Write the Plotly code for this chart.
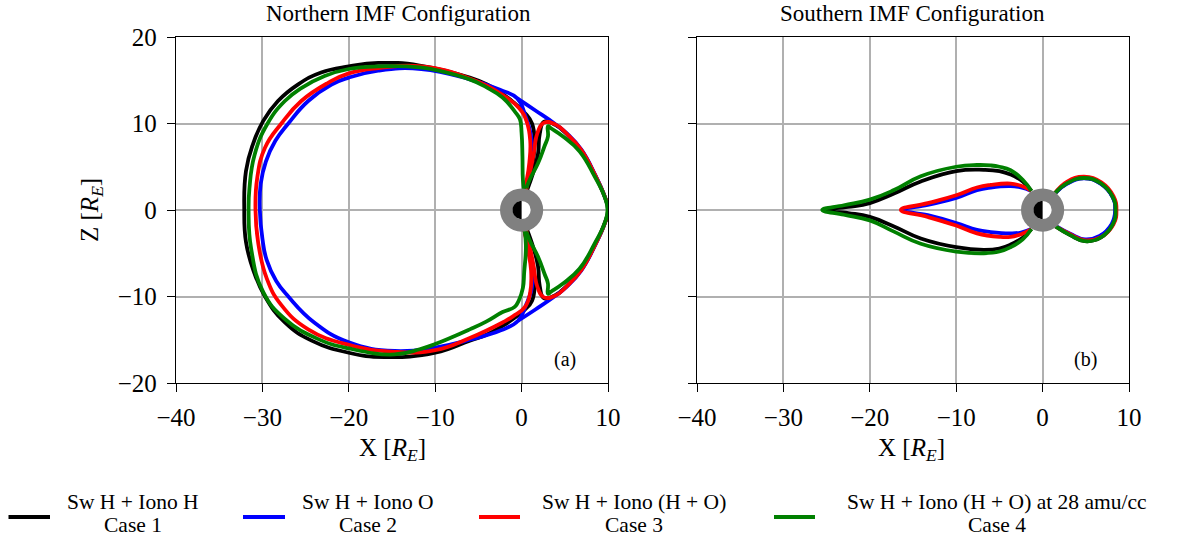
import numpy as np
import plotly.graph_objects as go

W, H = 1181, 540
FONT = "Liberation Serif"

# ---------------- data: boundary traces in X/Z [R_E] ----------------
case_colors = ["#000000", "#0000ff", "#ff0000", "#008000"]
case_titles = ["Sw H + Iono H", "Sw H + Iono O", "Sw H + Iono (H + O)",
               "Sw H + Iono (H + O) at 28 amu/cc"]
case_names = ["Case 1", "Case 2", "Case 3", "Case 4"]

# Northern IMF: nightside loop, then (after a gap) the dayside lobe
c1_north_x = [0.3, 0.8, 1.3, 1.5, 1.2, 0.4, -1.0, -2.2, -4.0, -6.0, -10.0, -15.9, -20.0, -24.3, -27.4, -29.7,
              -31.1, -31.9, -32.1, -31.9, -31.1, -29.9, -28.2, -25.9, -23.2, -20.0, -16.6, -11.8, -6.0, -4.0,
              -2.2, -1.0, 0.4, 1.2, 1.5, 1.3, 0.8, 0.3, None,
              0.6, 1.4, 1.9, 2.1, 2.6, 3.9, 5.3, 6.9, 8.5, 9.6, 10.0, 9.6, 8.5, 6.9, 5.3, 3.9, 2.6, 2.1, 1.9,
              1.4, 0.6]
c1_north_z = [-2.2, -4.5, -7.0, -9.0, -10.5, -11.5, -12.6, -13.4, -14.4, -15.1, -16.5, -17.0, -16.5, -15.1, -13.0,
              -10.0, -6.8, -3.7, 0.0, 4.5, 7.6, 10.3, 12.6, 14.5, 15.9, 16.6, 17.0, 16.7, 15.3, 14.5, 13.4, 12.5,
              11.2, 10.0, 8.0, 5.5, 3.5, 2.2, None,
              2.2, 4.5, 6.5, 8.8, 10.2, 9.85, 8.7, 6.9, 4.0, 1.6, 0.0, -1.6, -4.0, -6.9, -8.7, -9.85, -10.2, -8.8,
              -6.5, -4.5, -2.2]

c2_north_x = [0.3, 0.9, 1.3, 1.2, 0.5, -0.4, -2.4, -6.0, -10.0, -14.7, -20.0, -24.0, -27.0, -28.4, -29.5, -30.0,
              -30.3, -30.2, -29.6, -28.5, -27.0, -24.7, -22.0, -20.0, -16.6, -11.6, -6.0, -2.5, -0.5, 0.4, 1.1,
              1.2, 0.8, 0.3, None,
              -0.5, 1.6, 3.8, 5.3, 6.9, 8.5, 9.6, 10.05, 9.6, 8.5, 6.9, 5.3, 3.8, 1.6, -0.4]
c2_north_z = [-2.2, -4.5, -7.0, -9.0, -11.0, -12.8, -13.9, -15.0, -15.9, -16.3, -15.3, -13.0, -10.0, -8.2, -5.8,
              -3.3, 0.0, 3.0, 5.6, 8.0, 10.0, 12.6, 14.5, 15.3, 16.1, 16.3, 15.1, 13.9, 12.9, 11.0, 8.5, 6.0,
              4.0, 2.2, None,
              12.9, 11.5, 10.0, 8.8, 7.0, 4.1, 1.6, 0.0, -1.6, -4.1, -7.0, -8.8, -10.0, -11.5, -12.8]

c3_north_x = [0.3, 0.7, 1.1, 1.0, 0.4, -1.0, -2.2, -6.0, -10.0, -14.7, -20.0, -24.7, -27.8, -29.5, -30.5, -30.8,
              -30.6, -29.7, -27.8, -25.5, -22.4, -20.0, -16.6, -11.6, -6.0, -2.2, -0.3, 0.6, 1.0, 0.9, 0.6, 0.3,
              None,
              0.5, 1.0, 1.4, 1.8, 2.6, 3.9, 5.3, 6.9, 8.5, 9.6, 10.05, 9.6, 8.5, 6.9, 5.3, 3.9, 2.6, 1.8, 1.4,
              1.0, 0.5]
c3_north_z = [-2.2, -4.5, -7.0, -9.5, -11.2, -12.3, -13.0, -14.8, -16.2, -16.4, -15.6, -13.8, -11.0, -7.9, -3.7,
              0.0, 3.7, 7.2, 10.0, 12.6, 14.7, 15.8, 16.4, 16.6, 15.2, 13.3, 11.8, 10.2, 8.0, 5.5, 3.5, 2.2,
              None,
              2.2, 4.5, 6.5, 8.8, 10.1, 9.9, 8.75, 6.95, 4.05, 1.6, 0.0, -1.6, -4.05, -6.95, -8.75, -9.9, -10.1,
              -8.8, -6.5, -4.5, -2.2]

c4_north_x = [0.3, 0.5, 0.3, 0.15, -0.3, -0.8, -2.2, -4.1, -6.0, -10.0, -11.8, -14.7, -20.0, -23.6, -27.4, -29.9,
              -31.3, -31.6, -31.5, -30.9, -29.4, -27.4, -25.5, -22.8, -20.0, -16.6, -11.8, -10.0, -6.0, -4.1,
              -2.2, -0.8, -0.2, 0.0, 0.1, 0.15, 0.3, None,
              0.54, 0.93, 1.9, 2.66, 3.05, 3.05, 3.4, 4.8, 6.7, 8.45, 9.6, 9.95, 9.6, 8.45, 6.7, 4.8, 3.4, 3.05,
              3.05, 2.66, 1.9, 0.93, 0.54]
c4_north_z = [-2.0, -4.1, -7.2, -9.0, -10.4, -11.2, -11.8, -12.9, -13.8, -15.5, -16.1, -16.7, -16.0, -14.9, -12.6,
              -9.5, -4.5, 0.0, 2.5, 6.4, 10.0, 12.6, 14.1, 15.5, 16.3, 16.6, 16.5, 16.2, 15.1, 14.2, 13.0, 11.4,
              10.5, 8.9, 6.2, 3.5, 2.2, None,
              2.5, 3.5, 5.4, 7.4, 8.5, 9.7, 9.45, 8.5, 6.8, 3.9, 1.55, 0.0, -1.55, -3.9, -6.8, -8.5, -9.45, -9.7,
              -8.5, -7.4, -5.4, -3.5, -2.5]

# Southern IMF: magnetotail lobe, then (after a gap) the dayside lobe
c1_south_x = [-1.3, -2.3, -3.7, -5.0, -6.8, -10.0, -14.1, -17.2, -20.0, -22.5, -25.3, -22.5, -20.0, -17.2, -14.1,
              -10.0, -6.8, -5.0, -3.7, -2.3, -1.3, None,
              1.4, 2.85, 4.8, 6.7, 8.1, 8.45, 8.1, 6.7, 4.9, 3.2, 1.5]
c1_south_z = [2.2, 3.3, 4.1, 4.5, 4.65, 4.5, 3.3, 1.9, 0.8, 0.35, 0.0, -0.35, -0.8, -1.9, -3.3, -4.3, -4.6, -4.45,
              -4.0, -3.2, -2.2, None,
              1.9, 3.1, 3.7, 3.1, 1.55, 0.0, -1.7, -3.2, -3.6, -2.9, -1.9]

c2_south_x = [-1.3, -2.5, -3.7, -6.0, -7.6, -10.0, -13.3, -16.2, -13.3, -10.0, -7.6, -6.0, -3.7, -2.5, -1.3, None,
              1.4, 2.85, 4.8, 6.7, 8.1, 8.4, 8.0, 6.6, 4.9, 3.2, 1.5]
c2_south_z = [2.2, 2.6, 2.75, 2.6, 2.3, 1.4, 0.6, 0.0, -0.6, -1.5, -2.3, -2.55, -2.7, -2.6, -2.2, None,
              1.9, 3.05, 3.65, 3.05, 1.5, 0.0, -1.6, -3.0, -3.4, -2.75, -1.85]

c3_south_x = [-1.3, -2.5, -3.7, -6.0, -7.6, -10.0, -13.3, -16.4, -13.3, -10.0, -7.6, -5.0, -3.7, -2.5, -1.3, None,
              1.4, 2.8, 4.8, 6.8, 8.2, 8.55, 8.2, 6.8, 4.9, 3.2, 1.5]
c3_south_z = [2.2, 2.8, 3.05, 2.9, 2.6, 1.7, 0.8, 0.0, -0.8, -1.8, -2.7, -3.1, -3.1, -2.8, -2.2, None,
              1.9, 3.25, 3.85, 3.2, 1.6, 0.0, -1.65, -3.1, -3.5, -2.8, -1.9]

c4_south_x = [-1.3, -2.3, -3.7, -5.0, -6.0, -7.6, -10.0, -14.1, -17.2, -20.0, -23.0, -25.5, -23.0, -20.0, -17.2,
              -14.1, -10.0, -6.8, -5.0, -3.7, -2.3, -1.3, None,
              1.4, 2.85, 4.8, 6.7, 8.1, 8.45, 8.1, 6.7, 4.9, 3.2, 1.5]
c4_south_z = [2.2, 3.5, 4.6, 5.0, 5.15, 5.2, 5.0, 3.9, 2.3, 1.2, 0.55, 0.0, -0.55, -1.2, -2.5, -3.9, -4.8, -5.0,
              -4.8, -4.3, -3.4, -2.2, None,
              1.9, 3.1, 3.7, 3.1, 1.55, 0.0, -1.7, -3.2, -3.6, -2.9, -1.9]

north_x = [c1_north_x, c2_north_x, c3_north_x, c4_north_x]
north_z = [c1_north_z, c2_north_z, c3_north_z, c4_north_z]
south_x = [c1_south_x, c2_south_x, c3_south_x, c4_south_x]
south_z = [c1_south_z, c2_south_z, c3_south_z, c4_south_z]

x_ticks = [-40, -30, -20, -10, 0, 10]
z_ticks = [-20, -10, 0, 10, 20]
panel_titles = ["Northern IMF Configuration", "Southern IMF Configuration"]
panel_tags = ["(a)", "(b)"]

# ---------------- figure ----------------
fig = go.Figure()
line_style = dict(width=3.8, shape="spline", smoothing=1.3)
for xs, zs, col in zip(north_x, north_z, case_colors):
    fig.add_trace(go.Scatter(x=xs, y=zs, mode="lines", xaxis="x", yaxis="y",
                             line=dict(color=col, **line_style),
                             connectgaps=False, showlegend=False, hoverinfo="skip"))
for xs, zs, col in zip(south_x, south_z, case_colors):
    fig.add_trace(go.Scatter(x=xs, y=zs, mode="lines", xaxis="x2", yaxis="y2",
                             line=dict(color=col, **line_style),
                             connectgaps=False, showlegend=False, hoverinfo="skip"))


def px_x(p):
    return p / W


def px_y(p):
    return 1 - p / H


dom_a = [px_x(176), px_x(608)]
dom_b = [px_x(697), px_x(1129)]
dom_y = [px_y(383), px_y(37)]

axis_common = dict(
    showgrid=True, gridcolor="#b0b0b0", gridwidth=1.6, zeroline=False,
    showline=True, linecolor="black", linewidth=1.4, mirror=True,
    ticks="outside", ticklen=8, tickwidth=1.4, tickcolor="black",
    tickfont=dict(family=FONT, size=25, color="black"),
    fixedrange=True, automargin=False,
)

fig.update_layout(
    width=W, height=H,
    margin=dict(l=0, r=0, t=0, b=0, pad=0, autoexpand=False),
    paper_bgcolor="white", plot_bgcolor="white",
    showlegend=False,
    xaxis=dict(domain=dom_a, range=[-40, 10], tickvals=x_ticks, anchor="y",
               ticklabelstandoff=4, **axis_common),
    yaxis=dict(domain=dom_y, range=[-20, 20], tickvals=z_ticks, anchor="x",
               ticklabelstandoff=5, **axis_common),
    xaxis2=dict(domain=dom_b, range=[-40, 10], tickvals=x_ticks, anchor="y2",
                ticklabelstandoff=4, **axis_common),
    yaxis2=dict(domain=dom_y, range=[-20, 20], tickvals=z_ticks, anchor="x2",
                showticklabels=False, **axis_common),
)

# Earth: grey ring, white disk with a dark night half
theta = np.linspace(np.pi / 2, 3 * np.pi / 2, 40)
r_in = 1.05
night_path = "M " + " L ".join(f"{r_in*np.cos(t):.4f},{r_in*np.sin(t):.4f}" for t in theta) + " Z"
shapes = []
for xr, yr in [("x", "y"), ("x2", "y2")]:
    shapes.append(dict(type="circle", xref=xr, yref=yr, x0=-2.5, x1=2.5, y0=-2.5, y1=2.5,
                       fillcolor="#808080", line=dict(width=0), layer="above"))
    shapes.append(dict(type="circle", xref=xr, yref=yr, x0=-r_in, x1=r_in, y0=-r_in, y1=r_in,
                       fillcolor="white", line=dict(width=0), layer="above"))
    shapes.append(dict(type="path", xref=xr, yref=yr, path=night_path,
                       fillcolor="black", line=dict(width=0), layer="above"))

# custom legend: line samples
leg_lines = [(8.5, 50), (243, 285), (479, 520), (774, 815)]
leg_centers = [133, 368, 634, 997]
for (a, b), col in zip(leg_lines, case_colors):
    shapes.append(dict(type="line", xref="paper", yref="paper", x0=px_x(a), x1=px_x(b),
                       y0=px_y(517), y1=px_y(517), line=dict(color=col, width=4)))
fig.update_layout(shapes=shapes)

ann = []
font_txt = dict(family=FONT, size=23, color="black")
font_leg = dict(family=FONT, size=21.5, color="black")
for cx, t in zip([398, 912], panel_titles):
    ann.append(dict(xref="paper", yref="paper", x=px_x(cx), y=px_y(14), text=t, showarrow=False,
                    xanchor="center", yanchor="middle", font=font_txt))
axis_lab = "X [<i>R</i><sub><i>E</i></sub>]"
for cx in [392, 911]:
    ann.append(dict(xref="paper", yref="paper", x=px_x(cx), y=px_y(449), text=axis_lab, showarrow=False,
                    xanchor="center", yanchor="middle", font=dict(family=FONT, size=25, color="black")))
ann.append(dict(xref="paper", yref="paper", x=px_x(92), y=px_y(210), text="Z [<i>R</i><sub><i>E</i></sub>]",
                showarrow=False, textangle=-90, xanchor="center", yanchor="middle",
                font=dict(family=FONT, size=25, color="black")))
for (xr, yr), tag in zip([("x", "y"), ("x2", "y2")], panel_tags):
    ann.append(dict(xref=xr, yref=yr, x=5.0, y=-17.3, text=tag, showarrow=False,
                    xanchor="center", yanchor="middle", font=dict(family=FONT, size=20, color="black")))
for cx, t, n in zip(leg_centers, case_titles, case_names):
    ann.append(dict(xref="paper", yref="paper", x=px_x(cx), y=px_y(502), text=t,
                    showarrow=False, xanchor="center", yanchor="middle", font=font_leg))
    ann.append(dict(xref="paper", yref="paper", x=px_x(cx), y=px_y(525), text=n,
                    showarrow=False, xanchor="center", yanchor="middle", font=font_leg))
fig.update_layout(annotations=ann)

fig.write_html("out.html")
